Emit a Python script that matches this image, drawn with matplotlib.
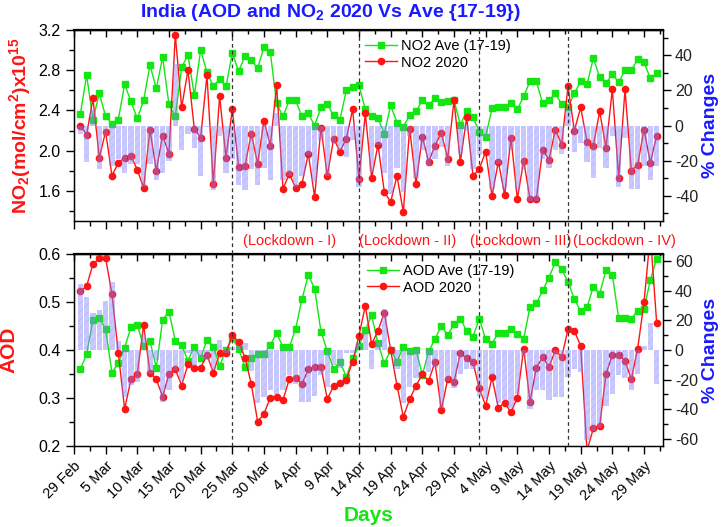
import numpy as np
import matplotlib.pyplot as plt
import matplotlib.transforms as mtransforms
from matplotlib.lines import Line2D
from matplotlib.ticker import MultipleLocator, FixedLocator, FormatStrFormatter

plt.rcParams['font.family'] = ['Liberation Sans', 'DejaVu Sans']
plt.rcParams['axes.unicode_minus'] = False
plt.rcParams['mathtext.fontset'] = 'custom'
plt.rcParams['mathtext.rm'] = 'Liberation Sans:bold'
plt.rcParams['mathtext.bf'] = 'Liberation Sans:bold'
plt.rcParams['mathtext.default'] = 'rm'
plt.rcParams['hatch.linewidth'] = 0.4

# day 0 = 29 Feb 2020, data from 1 Mar (day 1) to 31 May (day 92)
days = np.arange(1, 93)
tick_days = np.arange(0, 91, 5)
tick_labels = ['29 Feb', '5 Mar', '10 Mar', '15 Mar', '20 Mar', '25 Mar', '30 Mar',
               '4 Apr', '9 Apr', '14 Apr', '19 Apr', '24 Apr', '29 Apr', '4 May',
               '9 May', '14 May', '19 May', '24 May', '29 May']
lockdown_days = [25, 45, 64, 78]
lockdown_labels = ['(Lockdown - I)', '(Lockdown - II)', '(Lockdown - III)', '(Lockdown - IV)']
lockdown_label_days = [34, 52.7, 70.5, 86.9]

no2_ave = [2.36, 2.75, 2.31, 2.57, 2.34, 2.27, 2.31, 2.66, 2.49, 2.32,
           2.50, 2.85, 2.62, 2.93, 2.46, 2.34, 2.83, 2.95, 2.55, 3.00,
           2.78, 2.64, 2.71, 2.64, 2.97, 2.79, 2.94, 2.90, 2.82, 3.03,
           2.98, 2.47, 2.34, 2.50, 2.50, 2.34, 2.37, 2.25, 2.43, 2.46,
           2.35, 2.31, 2.60, 2.63, 2.65, 2.41, 2.34, 2.32, 2.17, 2.45,
           2.28, 2.24, 2.35, 2.39, 2.50, 2.45, 2.52, 2.48, 2.49, 2.50,
           2.26, 2.39, 2.33, 2.19, 2.14, 2.42, 2.43, 2.43, 2.47, 2.41,
           2.54, 2.69, 2.69, 2.47, 2.50, 2.57, 2.46, 2.43, 2.57, 2.69,
           2.66, 2.92, 2.73, 2.67, 2.76, 2.68, 2.80, 2.80, 2.91, 2.88,
           2.72, 2.77]
no2_2020 = [2.25, 2.16, 2.52, 1.93, 2.19, 1.75, 1.88, 1.93, 1.95, 1.81,
            1.63, 2.21, 1.80, 2.15, 1.97, 3.15, 2.43, 2.80, 2.22, 2.13,
            2.75, 1.67, 2.54, 1.93, 2.41, 1.84, 1.85, 2.17, 1.87, 2.30,
            2.05, 2.65, 1.62, 1.77, 1.63, 1.67, 1.97, 1.54, 2.23, 1.75,
            2.12, 1.99, 2.12, 2.41, 1.72, 2.37, 1.73, 2.06, 1.59, 1.49,
            1.75, 1.39, 2.22, 1.67, 2.14, 1.89, 2.05, 2.18, 1.92, 2.50,
            1.89, 2.33, 1.75, 1.82, 1.99, 1.55, 1.89, 1.56, 2.13, 1.52,
            1.90, 1.52, 1.52, 2.01, 1.91, 2.21, 2.06, 2.64, 2.20, 2.43,
            2.09, 2.05, 2.39, 2.03, 2.61, 1.73, 2.61, 1.80, 1.86, 2.21,
            1.88, 2.15]
no2_change = [-5, -21, 9, -25, -6, -23, -19, -27, -22, -22,
              -35, -22, -31, -27, -20, 35, -14, -5, -13, -29,
              -1, -37, -6, -27, -19, -34, -37, -25, -34, -24,
              -31, 7, -31, -29, -35, -29, -17, -32, -8, -29,
              -10, -14, -18, -8, -35, -1, -26, -11, -27, -39,
              -24, -38, -6, -30, -14, -23, -19, -12, -23, 0,
              -16, -3, -25, -17, -7, -36, -22, -36, -14, -37,
              -25, -43, -43, -19, -24, -14, -16, 9, -15, -10,
              -21, -30, -13, -24, -6, -35, -7, -36, -36, -23,
              -31, -23]

aod_ave = [0.360, 0.391, 0.463, 0.467, 0.443, 0.353, 0.372, 0.405, 0.447, 0.452,
           0.408, 0.419, 0.363, 0.463, 0.480, 0.419, 0.410, 0.378, 0.407, 0.383,
           0.421, 0.407, 0.367, 0.400, 0.424, 0.403, 0.364, 0.383, 0.392, 0.391,
           0.410, 0.435, 0.406, 0.406, 0.444, 0.506, 0.556, 0.528, 0.438, 0.398,
           0.360, 0.376, 0.344, 0.383, 0.408, 0.442, 0.472, 0.414, 0.372, 0.400,
           0.376, 0.406, 0.398, 0.401, 0.348, 0.397, 0.423, 0.450, 0.431, 0.454,
           0.465, 0.440, 0.428, 0.465, 0.422, 0.413, 0.436, 0.436, 0.444, 0.433,
           0.423, 0.490, 0.497, 0.524, 0.551, 0.583, 0.568, 0.542, 0.506, 0.481,
           0.489, 0.532, 0.517, 0.567, 0.557, 0.466, 0.467, 0.465, 0.482, 0.485,
           0.546, 0.590]
aod_2020 = [0.522, 0.533, 0.579, 0.591, 0.591, 0.517, 0.394, 0.277, 0.339, 0.351,
            0.452, 0.353, 0.339, 0.303, 0.350, 0.360, 0.326, 0.370, 0.363, 0.363,
            0.390, 0.353, 0.393, 0.394, 0.431, 0.417, 0.384, 0.329, 0.251, 0.267,
            0.301, 0.303, 0.296, 0.339, 0.341, 0.329, 0.360, 0.364, 0.364, 0.298,
            0.325, 0.332, 0.338, 0.376, 0.430, 0.492, 0.412, 0.440, 0.478, 0.400,
            0.326, 0.261, 0.297, 0.326, 0.349, 0.336, 0.374, 0.275, 0.339, 0.334,
            0.393, 0.383, 0.374, 0.320, 0.284, 0.343, 0.280, 0.290, 0.270, 0.301,
            0.403, 0.292, 0.363, 0.385, 0.365, 0.399, 0.385, 0.443, 0.440, 0.408,
            0.190, 0.237, 0.242, 0.350, 0.390, 0.389, 0.378, 0.339, 0.403, 0.499,
            0.640, 0.456]
aod_change = [45, 36, 25, 27, 33, 46, 6, -32, -24, -22,
              11, -16, -7, -35, -27, -14, -21, -2, -11, -5,
              -7, -13, 7, -2, 2, 3, 5, -14, -36, -32,
              -27, -30, -27, -17, -23, -35, -35, -31, -17, -25,
              -10, -12, -2, -2, 5, 11, -13, 6, 28, 0,
              -13, -36, -25, -19, 0, -15, -12, -39, -21, -26,
              -16, -13, -13, -31, -33, -17, -36, -34, -39, -30,
              -5, -40, -27, -27, -34, -32, -32, -18, -13, -15,
              -61, -55, -53, -38, -30, -17, -19, -27, -16, 3,
              18, -23]

GREEN = '#14e614'
RED = '#ff1414'
BLUE = '#1a1aff'
BAR_FACE = (0.5, 0.5, 1.0, 0.42)
BAR_HATCH = (0.5, 0.5, 0.92, 0.3)

fig = plt.figure(figsize=(7.25, 5.27), dpi=100)
ax1 = fig.add_axes([0.102, 0.5806, 0.8125, 0.3624])
ax2 = fig.add_axes([0.102, 0.1537, 0.8125, 0.3643])


def style_panel(ax, show_labels):
    ax.set_xlim(0, 93)
    ax.xaxis.set_major_locator(FixedLocator(tick_days))
    ax.xaxis.set_minor_locator(MultipleLocator(2.5))
    ax.tick_params(axis='x', which='major', direction='out', length=6, width=1)
    ax.tick_params(axis='x', which='minor', direction='out', length=3.5, width=1)
    if show_labels:
        ax.set_xticklabels(tick_labels, rotation=45, ha='right', rotation_mode='anchor',
                           fontsize=10.5)
    else:
        ax.set_xticklabels([])
    top = ax.secondary_xaxis('top')
    top.xaxis.set_major_locator(FixedLocator(tick_days))
    top.xaxis.set_minor_locator(MultipleLocator(2.5))
    top.tick_params(axis='x', which='major', direction='in', length=5, width=1, labeltop=False)
    top.tick_params(axis='x', which='minor', direction='in', length=3, width=1)
    top.spines['top'].set_linewidth(1.6)
    ax.tick_params(axis='y', which='major', direction='out', length=6, width=1, labelsize=11.5)
    ax.tick_params(axis='y', which='minor', direction='out', length=3.5, width=1)
    for s in ax.spines.values():
        s.set_linewidth(1.0)


def draw_panel(ax, ave, cur, change, ave_label, cur_label):
    ax.plot(days, ave, color=GREEN, lw=1.0, marker='s', ms=4, mfc=GREEN, mec=GREEN,
            label=ave_label, zorder=3)
    ax.plot(days, cur, color=RED, lw=1.0, marker='o', ms=4.5, mfc=RED, mec=RED,
            label=cur_label, zorder=3)
    tw = ax.twinx()
    tw.bar(days, change, width=0.85, color=BAR_FACE, edgecolor=BAR_HATCH, linewidth=0,
           hatch='////', zorder=2)
    tw.tick_params(axis='y', which='major', direction='out', length=6, width=1, labelsize=11.5,
                   labelcolor='#222222', pad=2.5)
    tw.tick_params(axis='y', which='minor', direction='out', length=3.5, width=1)
    tw.yaxis.set_major_locator(MultipleLocator(20))
    tw.yaxis.set_minor_locator(MultipleLocator(10))
    tw.set_ylabel('% Changes', color=BLUE, fontsize=14, fontweight='bold', labelpad=3)
    return tw


# top panel: NO2
style_panel(ax1, False)
tw1 = draw_panel(ax1, no2_ave, no2_2020, no2_change, 'NO2 Ave (17-19)', 'NO2 2020')
ax1.set_ylim(1.3, 3.2)
tw1.set_ylim(-54.5, 54.5)
ax1.yaxis.set_major_locator(MultipleLocator(0.4))
ax1.yaxis.set_minor_locator(MultipleLocator(0.2))
ax1.yaxis.set_major_formatter(FormatStrFormatter('%.1f'))
ax1.set_ylabel('NO$_2$(mol/cm$^2$)x10$^{15}$', color=RED, fontsize=14, fontweight='bold',
               labelpad=4)
ax1.legend(loc='upper left', bbox_to_anchor=(0.494, 0.955), frameon=False, fontsize=10.5,
           handlelength=2.2, handletextpad=0.3, borderaxespad=0, borderpad=0, labelspacing=0.2)

# bottom panel: AOD
style_panel(ax2, True)
tw2 = draw_panel(ax2, aod_ave, aod_2020, aod_change, 'AOD Ave (17-19)', 'AOD 2020')
ax2.set_ylim(0.2, 0.6)
tw2.set_ylim(-65, 65)
ax2.yaxis.set_major_locator(MultipleLocator(0.1))
ax2.yaxis.set_minor_locator(MultipleLocator(0.05))
ax2.yaxis.set_major_formatter(FormatStrFormatter('%.1f'))
ax2.set_ylabel('AOD', color=RED, fontsize=15, fontweight='bold', labelpad=14)
ax2.legend(loc='upper left', bbox_to_anchor=(0.497, 0.95), frameon=False, fontsize=10.5,
           handlelength=2.2, handletextpad=0.3, borderaxespad=0, borderpad=0, labelspacing=0.2)
ax2.set_xlabel('Days', color=GREEN, fontsize=15, fontweight='bold', labelpad=2)

# lockdown separators running through both panels
trans = mtransforms.blended_transform_factory(ax1.transData, fig.transFigure)
for d in lockdown_days:
    fig.add_artist(Line2D([d, d], [0.1537, 0.943], transform=trans, color='#333333',
                          lw=0.9, ls=(0, (3, 2.5)), zorder=5))
for d, lab in zip(lockdown_label_days, lockdown_labels):
    fig.text(d, 0.5427, lab, transform=trans, color=RED, fontsize=10.5,
             ha='center', va='center')

fig.text(0.456, 0.977, 'India (AOD and NO$_2$ 2020 Vs Ave {17-19})', color=BLUE,
         fontsize=14, fontweight='bold', ha='center', va='center')

fig.savefig('out.png', dpi=100)
